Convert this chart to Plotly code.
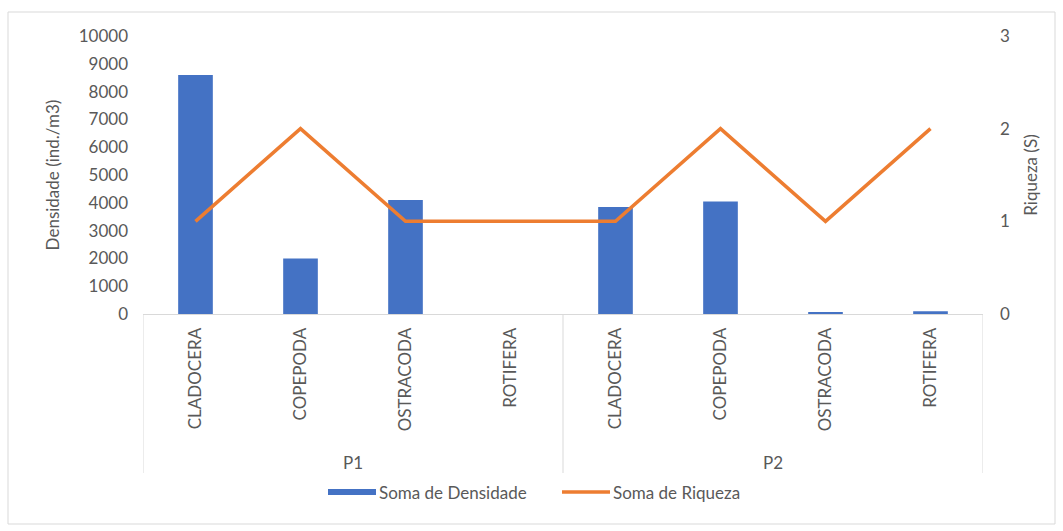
import plotly.graph_objects as go

# Sites and taxa
sites = ["P1", "P2"]
taxa = ["CLADOCERA", "COPEPODA", "OSTRACODA", "ROTIFERA"]
labels = taxa * len(sites)

# Density (ind./m3) and richness (S), in site/taxon order
densidade = [8600, 2000, 4100, 0, 3850, 4050, 40, 100]
riqueza = [1, 2, 1, 1, 1, 2, 1, 2]

positions = list(range(len(labels)))

font_color = "#595959"
font_family = "Lato, 'Open Sans', sans-serif"
line_grey = "#D9D9D9"
fs = 17

fig = go.Figure()
fig.add_trace(go.Bar(
    x=positions, y=densidade, name="Soma de Densidade",
    marker=dict(color="#4472C4", line=dict(width=0)),
    width=0.33, showlegend=False,
))
fig.add_trace(go.Scatter(
    x=positions, y=riqueza, name="Soma de Riqueza",
    mode="lines", line=dict(color="#ED7D31", width=3.5),
    yaxis="y2", showlegend=False,
))

W, H = 1063, 531
left, right, top, bottom = 143, 983, 36, 314
pw, ph = right - left, bottom - top


def px_x(x):
    return (x - left) / pw


def px_y(y):
    return (bottom - y) / ph


fig.update_layout(
    width=W, height=H,
    margin=dict(l=left, r=W - right, t=top, b=H - bottom),
    paper_bgcolor="white", plot_bgcolor="white",
    font=dict(family=font_family, size=fs, color=font_color),
    showlegend=False,
    xaxis=dict(
        range=[-0.5, len(labels) - 0.5],
        tickvals=positions, ticktext=labels, tickangle=-90,
        showline=True, linecolor=line_grey, linewidth=1,
        showgrid=False, zeroline=False, ticks="",
        tickfont=dict(size=fs, color=font_color),
        ticklabelstandoff=6,
    ),
    yaxis=dict(
        range=[0, 10000], dtick=1000, tickformat="d",
        showgrid=False, zeroline=False,
        tickfont=dict(size=fs, color=font_color),
        ticklabelstandoff=14,
        title=dict(text="Densidade (ind./m3)", font=dict(size=fs, color=font_color), standoff=14),
    ),
    yaxis2=dict(
        range=[0, 3], dtick=1, overlaying="y", side="right",
        showgrid=False, zeroline=False,
        tickfont=dict(size=fs, color=font_color),
        ticklabelstandoff=16,
        title=dict(text="Riqueza (S)", font=dict(size=fs, color=font_color), standoff=16),
    ),
)

# Group dividers below the category axis
group_bottom = 473
n_per = len(taxa)
for k in range(len(sites) + 1):
    xb = k * n_per - 0.5
    fig.add_shape(type="line", xref="x", yref="paper",
                  x0=xb, x1=xb, y0=0, y1=px_y(group_bottom),
                  line=dict(color=line_grey, width=1))

# Group labels
for k, s in enumerate(sites):
    fig.add_annotation(x=k * n_per + (n_per - 1) / 2, xref="x",
                       y=px_y(462), yref="paper", text=s, showarrow=False,
                       font=dict(size=fs, color=font_color), yanchor="middle")

# Legend
leg_y = px_y(492)
items = [("Soma de Densidade", "#4472C4", 328, 376, 6),
         ("Soma de Riqueza", "#ED7D31", 562, 610, 3.5)]
for name, color, x0, x1, thick in items:
    if thick > 4:
        fig.add_shape(type="rect", xref="paper", yref="paper",
                      x0=px_x(x0), x1=px_x(x1),
                      y0=px_y(492 + thick / 2), y1=px_y(492 - thick / 2),
                      fillcolor=color, line=dict(width=0))
    else:
        fig.add_shape(type="line", xref="paper", yref="paper",
                      x0=px_x(x0), x1=px_x(x1), y0=leg_y, y1=leg_y,
                      line=dict(color=color, width=thick))
    fig.add_annotation(x=px_x(x1 + 1), y=leg_y, xref="paper", yref="paper",
                       text=name, showarrow=False, xanchor="left", yanchor="middle",
                       font=dict(size=fs, color=font_color))

# Outer chart border
fig.add_shape(type="rect", xref="paper", yref="paper",
              x0=px_x(8), x1=px_x(1055), y0=px_y(524), y1=px_y(12),
              line=dict(color=line_grey, width=1), layer="below")

fig.write_html("out.html")
